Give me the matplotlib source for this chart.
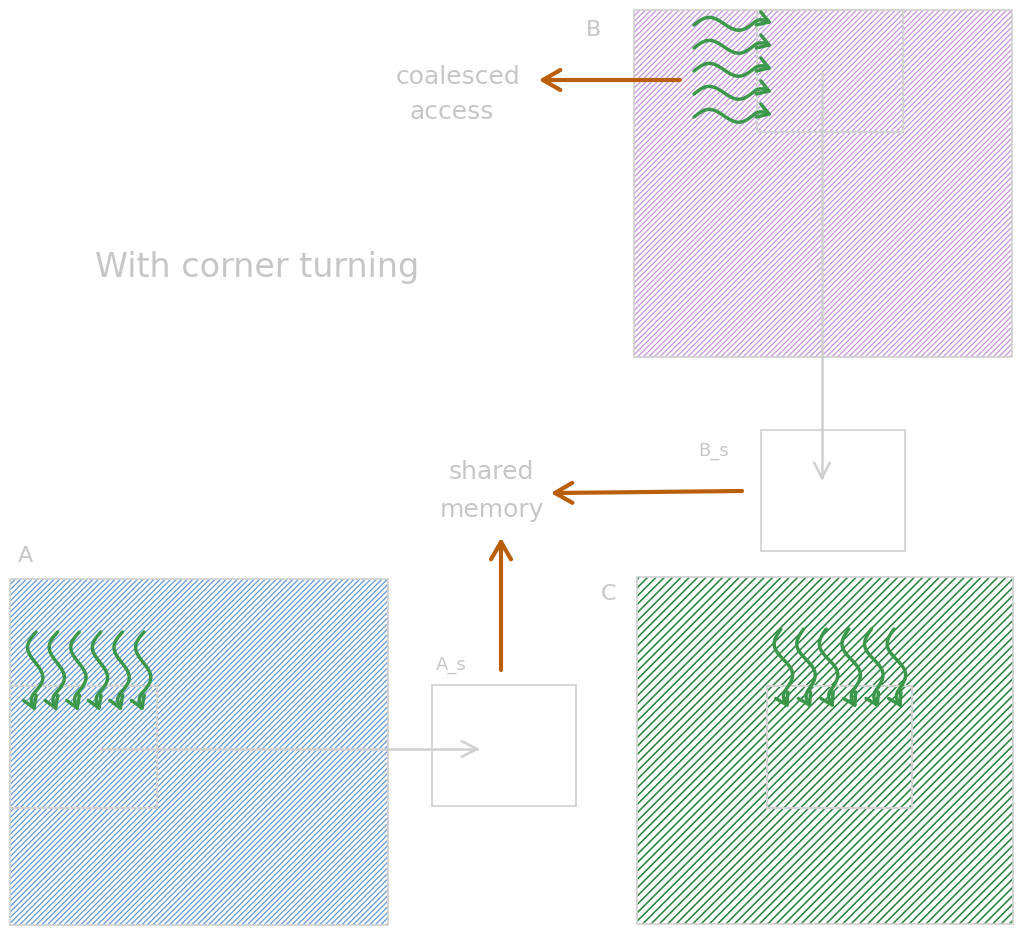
import numpy as np
import matplotlib
matplotlib.use("Agg")
import matplotlib.pyplot as plt
from matplotlib.patches import Rectangle

# ---------------- content ----------------
matrix_names = ["A", "B", "C"]
tile_names = ["A_s", "B_s"]
title_text = "With corner turning"
note_coalesced = ["coalesced", "access"]
note_shared = ["shared", "memory"]
threads_A = 6
threads_B = 5
threads_C = 6

# ---------------- layout (pixels) ----------------
W, H = 1025, 936
big_boxes = {"A": (10, 579, 378, 346), "B": (634, 10, 378, 347), "C": (637, 577, 376, 347)}
hatch_col = {"A": "#6198d3", "B": "#c592dd", "C": "#23803a"}
hatch_pat = {"A": "//////", "B": "//////", "C": "////"}
hatch_lw = {"A": 0.9, "B": 0.9, "C": 1.1}
tiles = {"A": (10, 686, 147, 122), "B": (757, 10, 146, 122), "C": (767, 686, 145, 122)}
smem = {"A_s": (432, 685, 144, 121), "B_s": (761, 430, 144, 121)}
name_pos = {"A": (25, 556), "B": (594, 30), "C": (609, 594)}
smem_label_pos = {"A_s": (451, 665), "B_s": (714, 451)}

GRAY = "#cfcfcf"
TXT = "#c6c6c6"
ORANGE = "#b95f0c"
GREEN = "#3b984a"
FONT = ["DejaVu Sans"]

fig = plt.figure(figsize=(W / 100, H / 100), dpi=100)
ax = fig.add_axes([0, 0, 1, 1])
ax.set_xlim(0, W)
ax.set_ylim(H, 0)
ax.axis("off")


def arrow_head(ax, tip, prev, length, half_angle, color, lw, z):
    d = np.array(tip, float) - np.array(prev, float)
    d /= np.hypot(*d)
    for s in (1, -1):
        a = np.deg2rad(half_angle) * s
        rot = np.array([[np.cos(a), -np.sin(a)], [np.sin(a), np.cos(a)]])
        back = rot @ (-d) * length
        ax.plot([tip[0], tip[0] + back[0]], [tip[1], tip[1] + back[1]],
                color=color, lw=lw, solid_capstyle="round", zorder=z)


def straight_arrow(ax, p0, p1, color, lw, hl, ang, z):
    ax.plot([p0[0], p1[0]], [p0[1], p1[1]], color=color, lw=lw,
            solid_capstyle="round", zorder=z)
    arrow_head(ax, p1, p0, hl, ang, color, lw, z)


def wavy_arrow(ax, p0, p1, amp, cycles, phase, color, lw, z):
    p0 = np.array(p0, float)
    p1 = np.array(p1, float)
    t = np.linspace(0, 1, 120)
    d = p1 - p0
    L = np.hypot(*d)
    u = d / L
    perp = np.array([-u[1], u[0]])
    env = np.clip((1 - t) / 0.2, 0, 1)
    off = amp * np.sin(2 * np.pi * cycles * t + phase) * env
    pts = p0[None, :] + t[:, None] * d[None, :] + off[:, None] * perp[None, :]
    ax.plot(pts[:, 0], pts[:, 1], color=color, lw=lw, solid_capstyle="round",
            solid_joinstyle="round", zorder=z)
    arrow_head(ax, pts[-1], pts[-10], 13, 32, color, lw, z)


# big hatched matrices
for name in matrix_names:
    x, y, w, h = big_boxes[name]
    with plt.rc_context({"hatch.linewidth": hatch_lw[name]}):
        hp = Rectangle((x, y), w, h, facecolor="none", edgecolor=hatch_col[name],
                       hatch=hatch_pat[name], lw=0, zorder=1)
        ax.add_patch(hp)
    ax.add_patch(Rectangle((x, y), w, h, fill=False, edgecolor=GRAY, lw=1.2, zorder=2))
    tx, ty, tw, th = tiles[name]
    ax.add_patch(Rectangle((tx, ty), tw, th, fill=False, edgecolor="#d2d2d2", lw=1.5, zorder=3))
    ax.text(*name_pos[name], name, color=TXT, fontsize=16, ha="center", va="center",
            family=FONT)

# shared memory tiles
for name in tile_names:
    x, y, w, h = smem[name]
    ax.add_patch(Rectangle((x, y), w, h, facecolor="white", edgecolor=GRAY, lw=1.2, zorder=2))
    ax.text(*smem_label_pos[name], name, color=TXT, fontsize=13, ha="center", va="center",
            family=FONT)

# gray load arrows
straight_arrow(ax, (100, 749), (477, 749), GRAY, 1.8, 17, 27, 4)
straight_arrow(ax, (822, 72), (822, 478), GRAY, 1.8, 17, 27, 4)

# orange arrows
straight_arrow(ax, (680, 80), (543, 80), ORANGE, 3.0, 20, 30, 6)
straight_arrow(ax, (742, 491), (555, 493), ORANGE, 3.0, 20, 30, 6)
straight_arrow(ax, (501, 670), (501, 542), ORANGE, 3.0, 20, 30, 6)

# thread (warp) wavy arrows
b_rows = np.linspace(25, 117, threads_B)
for y in b_rows:
    wavy_arrow(ax, (694, y), (769, y - 3), 7.0, 1.25, np.pi, GREEN, 2.5, 7)

a_cols = np.linspace(36, 144, threads_A)
for x in a_cols:
    wavy_arrow(ax, (x, 632), (x - 2, 708), 8.0, 1.25, 0.0, GREEN, 2.5, 7)

c_cols = np.linspace(781, 894, threads_C)
for x in c_cols:
    wavy_arrow(ax, (x, 629), (x + 6, 705), 8.0, 1.25, 0.0, GREEN, 2.5, 7)

# texts
ax.text(257, 268, title_text, color=TXT, fontsize=24, ha="center", va="center", family=FONT)
ax.text(458, 77, note_coalesced[0], color=TXT, fontsize=18, ha="center", va="center", family=FONT)
ax.text(452, 112, note_coalesced[1], color=TXT, fontsize=18, ha="center", va="center", family=FONT)
ax.text(491, 472, note_shared[0], color=TXT, fontsize=18, ha="center", va="center", family=FONT)
ax.text(492, 510, note_shared[1], color=TXT, fontsize=18, ha="center", va="center", family=FONT)

fig.savefig("out.png", dpi=100, facecolor="white")
